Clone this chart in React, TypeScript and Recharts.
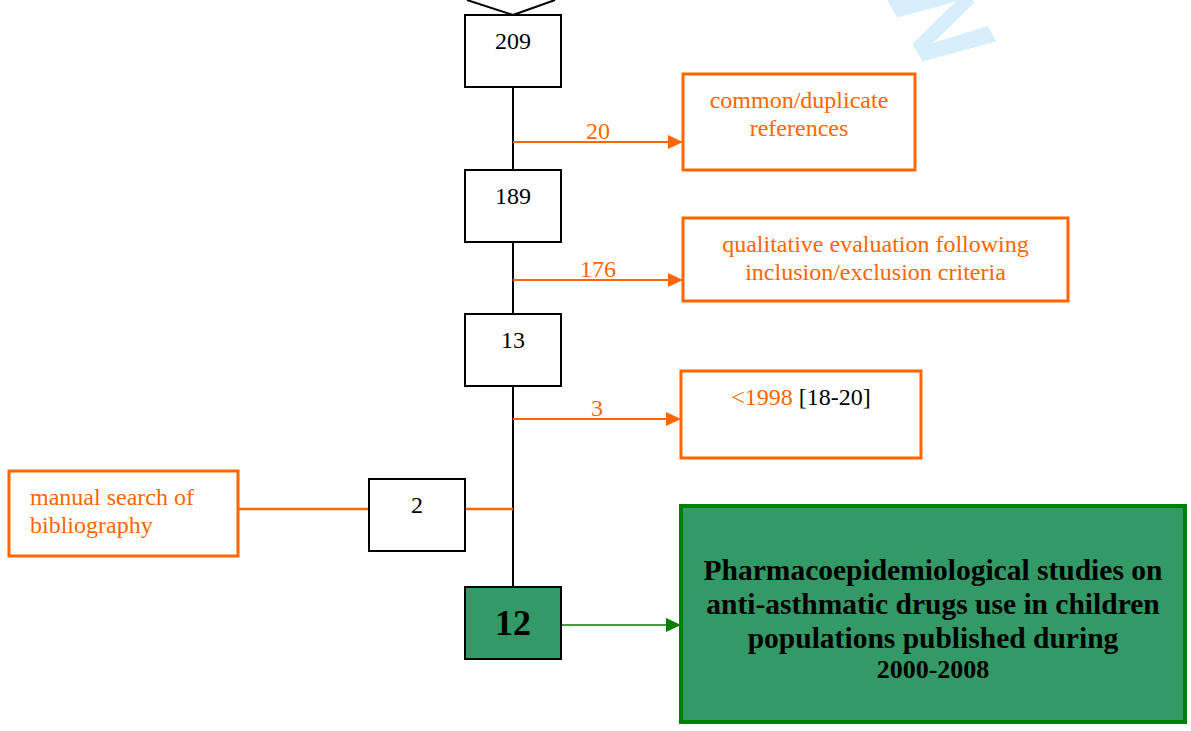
import React from 'react';
import {
  ScatterChart, Scatter, XAxis, YAxis, ReferenceArea, ReferenceLine, ReferenceDot,
} from 'recharts';

// counts at each step of the selection
const stageCounts = [209, 189, 13];
const finalCount = 12;
const manualCount = 2;
const excludedCounts = [20, 176, 3];
const excludedReasons = [
  ['common/duplicate', 'references'],
  ['qualitative evaluation following', 'inclusion/exclusion criteria'],
  ['<1998'],
];
const excludedRefs = ['', '', '[18-20]'];
const manualSource = ['manual search of', 'bibliography'];
const resultLines = [
  'Pharmacoepidemiological studies on',
  'anti-asthmatic drugs use in children',
  'populations published during',
  '2000-2008',
];

// layout (chart units)
const W = 1191;
const H = 731;
const colX = 513;
const boxW = 96;
const boxH = 72;
const stageTop = [15, 170, 314];
const finalTop = 587;
const manualBoxX = 417;
const manualBoxTop = 479;
const arrowY = [142, 280, 419];
const excludedBoxes = [
  { x1: 683, x2: 915, y1: 74, y2: 170 },
  { x1: 683, x2: 1068, y1: 218, y2: 301 },
  { x1: 681, x2: 921, y1: 371, y2: 458 },
];
const sourceBox = { x1: 9, x2: 238, y1: 471, y2: 556 };
const joinY = 509;
const resultBox = { x1: 681, x2: 1185, y1: 506, y2: 722 };

const ORANGE = '#ff6600';
const GREEN = '#008000';
const GREEN_FILL = '#339966';
const FONT = '"Liberation Serif", "Times New Roman", serif';
const FS = 24;

const nodes = [
  ...stageCounts.map((c, i) => ({ x: colX, y: stageTop[i] + boxH / 2, count: c, kind: 'stage' })),
  { x: manualBoxX, y: manualBoxTop + boxH / 2, count: manualCount, kind: 'stage' },
  { x: colX, y: finalTop + boxH / 2, count: finalCount, kind: 'final' },
];

const NodeShape = (props: any) => {
  const { cx, cy, payload } = props;
  const final = payload.kind === 'final';
  return (
    <g>
      <rect x={cx - boxW / 2} y={cy - boxH / 2} width={boxW} height={boxH}
        fill={final ? GREEN_FILL : '#fff'} stroke="#000" strokeWidth={2} />
      <text x={cx} y={final ? cy : cy - boxH / 2 + 26} textAnchor="middle" dominantBaseline="central"
        fontFamily={FONT} fontSize={final ? 36 : FS} fontWeight={final ? 'bold' : 'normal'} fill="#000">
        {payload.count}
      </text>
    </g>
  );
};

const arrow = (color: string, width: number, label?: string | number) => (p: any) => {
  const { x1, y1, x2, y2 } = p;
  const head = 15;
  return (
    <g>
      <line x1={x1} y1={y1} x2={x2 - head} y2={y2} stroke={color} strokeWidth={width} />
      <polygon points={`${x2},${y2} ${x2 - head},${y2 - 7} ${x2 - head},${y2 + 7}`} fill={color} />
      {label !== undefined && (
        <text x={(x1 + x2) / 2} y={y1 - 11} textAnchor="middle" dominantBaseline="central"
          fontFamily={FONT} fontSize={FS} fill={color}>{label}</text>
      )}
    </g>
  );
};

const boxLabel = (lines: string[], color: string, ref = '') => (p: any) => {
  const { x, y, width } = p.viewBox;
  return (
    <text x={x + width / 2} textAnchor="middle" fontFamily={FONT} fontSize={FS} fill={color}>
      {lines.map((l, i) => (
        <tspan key={i} x={x + width / 2} y={y + 26 + i * 28} dominantBaseline="central">
          {l}
          {ref && i === lines.length - 1 ? <tspan fill="#000">{' ' + ref}</tspan> : null}
        </tspan>
      ))}
    </text>
  );
};

const sourceLabel = (p: any) => {
  const { x, y } = p.viewBox;
  return (
    <text fontFamily={FONT} fontSize={FS} fill={ORANGE}>
      {manualSource.map((l, i) => (
        <tspan key={i} x={x + 21} y={y + 26 + i * 28} dominantBaseline="central">{l}</tspan>
      ))}
    </text>
  );
};

const resultLabel = (p: any) => {
  const { x, width } = p.viewBox;
  const ys = [570, 604, 638, 669];
  return (
    <text textAnchor="middle" fontFamily={FONT} fontWeight="bold" fill="#000">
      {resultLines.map((l, i) => (
        <tspan key={i} x={x + width / 2} y={ys[i]} fontSize={i === 3 ? 26 : 29.5} dominantBaseline="central">{l}</tspan>
      ))}
    </text>
  );
};

// faint journal watermark, mostly clipped by the top edge
const Watermark = (p: any) => (
  <text x={p.cx} y={p.cy} textAnchor="middle"
    fontFamily='"Liberation Sans", Arial, sans-serif' fontWeight="bold" fontSize={140}
    fill="#d6effb" transform={`rotate(60 ${p.cx} ${p.cy})`}>w</text>
);

export default function App() {
  return (
    <div style={{ position: 'absolute', left: 0, top: 0, background: '#fff' }}>
      <ScatterChart width={W} height={H} margin={{ top: 0, right: 0, bottom: 0, left: 0 }}>
        <XAxis type="number" dataKey="x" domain={[0, W]} hide allowDataOverflow />
        <YAxis type="number" dataKey="y" domain={[0, H]} reversed hide allowDataOverflow />

        <ReferenceDot x={905} y={31} r={0} ifOverflow="visible" shape={Watermark} />

        {/* chevron at the top */}
        <ReferenceLine segment={[{ x: 467, y: 0 }, { x: colX, y: stageTop[0] }]} stroke="#000" strokeWidth={2} ifOverflow="visible" />
        <ReferenceLine segment={[{ x: colX, y: stageTop[0] }, { x: 555, y: 0 }]} stroke="#000" strokeWidth={2} ifOverflow="visible" />

        {/* main column */}
        {stageTop.map((t, i) => (
          <ReferenceLine key={`v${i}`}
            segment={[{ x: colX, y: t + boxH }, { x: colX, y: i < stageTop.length - 1 ? stageTop[i + 1] : finalTop }]}
            stroke="#000" strokeWidth={2} ifOverflow="visible" />
        ))}

        {/* exclusions */}
        {excludedCounts.map((c, i) => (
          <ReferenceLine key={`a${i}`}
            segment={[{ x: colX, y: arrowY[i] }, { x: excludedBoxes[i].x1, y: arrowY[i] }]}
            ifOverflow="visible" shape={arrow(ORANGE, 2, c)} />
        ))}
        {excludedBoxes.map((b, i) => (
          <ReferenceArea key={`b${i}`} {...b} fill="#fff" fillOpacity={1} stroke={ORANGE} strokeWidth={3}
            ifOverflow="visible" label={boxLabel(excludedReasons[i], ORANGE, excludedRefs[i])} />
        ))}

        {/* manual search branch */}
        <ReferenceArea {...sourceBox} fill="#fff" fillOpacity={1} stroke={ORANGE} strokeWidth={3}
          ifOverflow="visible" label={sourceLabel} />
        <ReferenceLine segment={[{ x: sourceBox.x2, y: joinY }, { x: manualBoxX - boxW / 2, y: joinY }]}
          stroke={ORANGE} strokeWidth={2.5} ifOverflow="visible" />
        <ReferenceLine segment={[{ x: manualBoxX + boxW / 2, y: joinY }, { x: colX, y: joinY }]}
          stroke={ORANGE} strokeWidth={2.5} ifOverflow="visible" />

        {/* result */}
        <ReferenceLine segment={[{ x: colX + boxW / 2, y: finalTop + 38 }, { x: resultBox.x1, y: finalTop + 38 }]}
          ifOverflow="visible" shape={arrow(GREEN, 1.5)} />
        <ReferenceArea {...resultBox} fill={GREEN_FILL} fillOpacity={1} stroke={GREEN} strokeWidth={4}
          ifOverflow="visible" label={resultLabel} />

        <Scatter data={nodes} shape={NodeShape} isAnimationActive={false} />
      </ScatterChart>
    </div>
  );
}
